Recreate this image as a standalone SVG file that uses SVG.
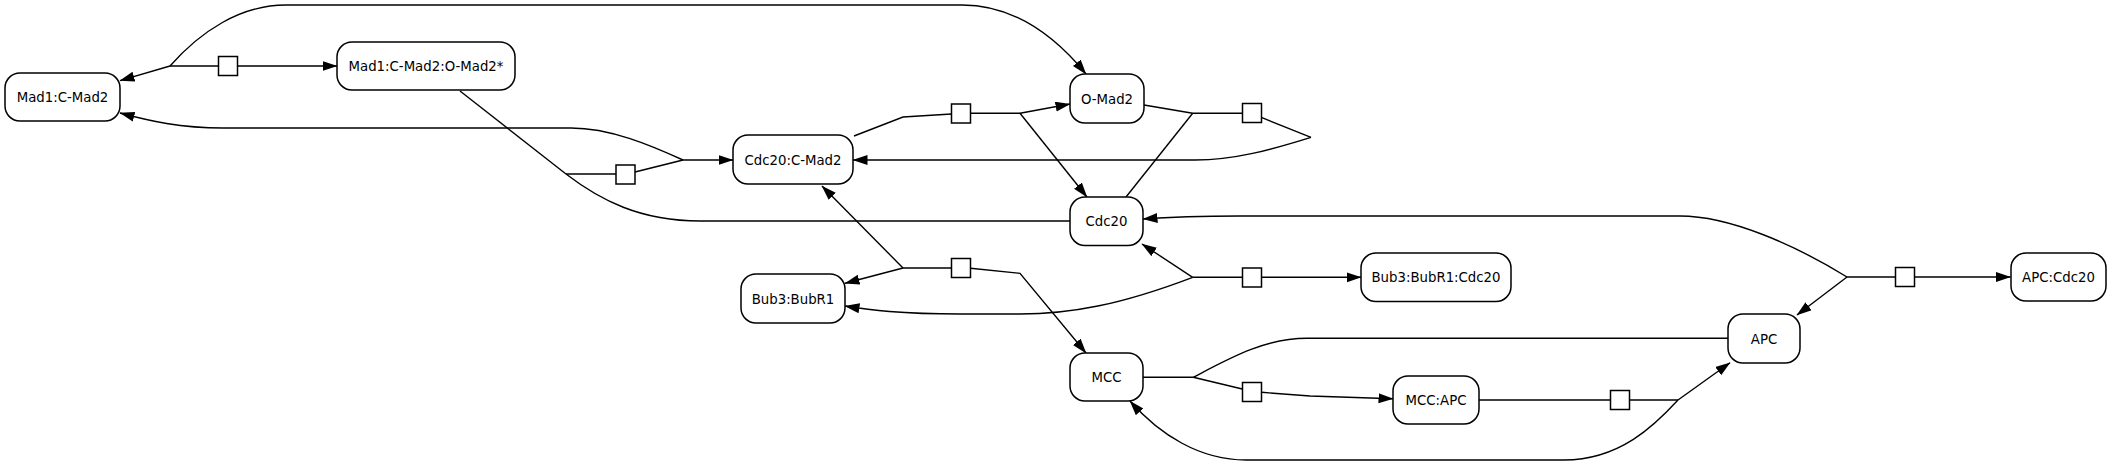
<svg xmlns="http://www.w3.org/2000/svg" width="2112" height="467" viewBox="0 0 2112 467">
<style>
.node rect{fill:#fff;stroke:#000;stroke-width:1.5}
.node text{font-family:"DejaVu Sans",sans-serif;font-size:13.3px;text-anchor:middle;fill:#000}
.edges path{fill:none;stroke:#000;stroke-width:1.4}
.edges path.a{marker-end:url(#arr)}
.proc rect{fill:#fff;stroke:#000;stroke-width:1.5}
</style>
<defs>
<marker id="arr" markerUnits="userSpaceOnUse" markerWidth="16" markerHeight="11" refX="14.5" refY="5" orient="auto">
<path d="M0,0 L15,5 L0,10 z" fill="#000"/>
</marker>
</defs>
<rect width="2112" height="467" fill="#fff"/>
<g class="edges" id="connectors">
<!-- R1 -->
<path class="a" d="M170,66 L120,80.7"/>
<path d="M170,66 L218.5,66"/>
<path class="a" d="M237.5,66 L337,66"/>
<path class="a" d="M170,66 C200,32 240,5 286,5 L962,5 C1010,5 1050,30 1086,74"/>
<!-- R2 -->
<path d="M460,91 L566,174"/>
<path d="M1070,221 L700,221 C640,221 600,200 566,174"/>
<path d="M566,174 L616,174"/>
<path d="M635,172 L683,160"/>
<path class="a" d="M683,160 L733,160"/>
<path class="a" d="M683,160 C650,145 610,128 571,128 L223,128 C180,128 150,121 120,113"/>
<!-- R3 -->
<path d="M854,136 L903,117 L951.5,114"/>
<path d="M970.5,113.3 L1020,113.3"/>
<path class="a" d="M1020,113.3 L1070,104"/>
<path class="a" d="M1020,113.3 L1087,197"/>
<!-- R4 -->
<path d="M1144,105 L1192.7,113.3"/>
<path d="M1126,197 L1192.7,113.3"/>
<path d="M1192.7,113.3 L1242,113.3"/>
<path d="M1262,117.7 L1311,137.3"/>
<path class="a" d="M1311,137.3 C1270,150 1235,160 1195,160 L853,160"/>
<!-- R5 -->
<path class="a" d="M903,268 L822,186"/>
<path class="a" d="M903,268 L845,283.3"/>
<path d="M903,268 L951.5,268"/>
<path class="a" d="M970.5,268.3 L1020,273.3 L1086,353"/>
<!-- R6 -->
<path class="a" d="M1192.7,277.3 L1142,244"/>
<path class="a" d="M1192.7,277.3 C1120,305 1070,314 1020,314 L960,314 C900,314 870,310 845,306"/>
<path d="M1192.7,277.3 L1242,277.3"/>
<path class="a" d="M1262,277.3 L1361,277.3"/>
<!-- R7 -->
<path d="M1142.7,377.3 L1193.3,377.3"/>
<path d="M1193.3,377.3 C1230,358 1265,338.3 1307,338.3 L1728,338.3"/>
<path d="M1193.3,377.3 L1242.3,389"/>
<path class="a" d="M1261.7,392.3 L1310,396 L1393,398.7"/>
<!-- R8 -->
<path d="M1479,400 L1611,400"/>
<path d="M1629.5,400 L1678,400"/>
<path class="a" d="M1678,400 L1730,362.7"/>
<path class="a" d="M1678,400 C1655,425 1620,460 1564,460 L1246,460 C1200,460 1160,435 1130,401"/>
<!-- R9 -->
<path class="a" d="M1847,277 L1797,315"/>
<path class="a" d="M1847,277 C1795,245 1730,216 1680,216 L1240,216 C1200,216 1170,217 1143,219"/>
<path d="M1847,277 L1895.5,277"/>
<path class="a" d="M1914.5,277 L2010.5,277"/>
</g>
<g class="proc" id="processes">
<rect x="218.5" y="56.5" width="19" height="19"/>
<rect x="616" y="165" width="19" height="19"/>
<rect x="951.5" y="104" width="19" height="19"/>
<rect x="1242.5" y="103.5" width="19" height="19"/>
<rect x="951.5" y="258.5" width="19" height="19"/>
<rect x="1242.5" y="268" width="19" height="19"/>
<rect x="1242.5" y="382.5" width="19" height="19"/>
<rect x="1610.5" y="390.5" width="19" height="19"/>
<rect x="1895.5" y="267.5" width="19" height="19"/>
</g>
<g class="node" id="n_Mad1_CMad2"><rect x="5" y="73" width="115" height="48" rx="15"/><text x="62.5" y="102">Mad1:C-Mad2</text></g>
<g class="node" id="n_Mad1_CMad2_OMad2"><rect x="337" y="42" width="178" height="48" rx="15"/><text x="426" y="71">Mad1:C-Mad2:O-Mad2*</text></g>
<g class="node" id="n_OMad2"><rect x="1070" y="74" width="74" height="49" rx="15"/><text x="1107" y="103.5">O-Mad2</text></g>
<g class="node" id="n_Cdc20_CMad2"><rect x="733" y="135" width="120" height="49" rx="15"/><text x="793" y="164.5">Cdc20:C-Mad2</text></g>
<g class="node" id="n_Cdc20"><rect x="1070" y="197" width="73" height="48.5" rx="15"/><text x="1106.5" y="226">Cdc20</text></g>
<g class="node" id="n_Bub3_BubR1"><rect x="741" y="274" width="104" height="49" rx="15"/><text x="793" y="303.5">Bub3:BubR1</text></g>
<g class="node" id="n_Bub3_BubR1_Cdc20"><rect x="1361" y="253" width="150" height="48.5" rx="15"/><text x="1436" y="282">Bub3:BubR1:Cdc20</text></g>
<g class="node" id="n_APC_Cdc20"><rect x="2011" y="253" width="95" height="48" rx="15"/><text x="2058.5" y="282">APC:Cdc20</text></g>
<g class="node" id="n_APC"><rect x="1728" y="314" width="72" height="49" rx="15"/><text x="1764" y="343.5">APC</text></g>
<g class="node" id="n_MCC"><rect x="1070" y="353" width="73" height="48" rx="15"/><text x="1106.5" y="382">MCC</text></g>
<g class="node" id="n_MCC_APC"><rect x="1393" y="376" width="86" height="48" rx="15"/><text x="1436" y="405">MCC:APC</text></g>
</svg>
